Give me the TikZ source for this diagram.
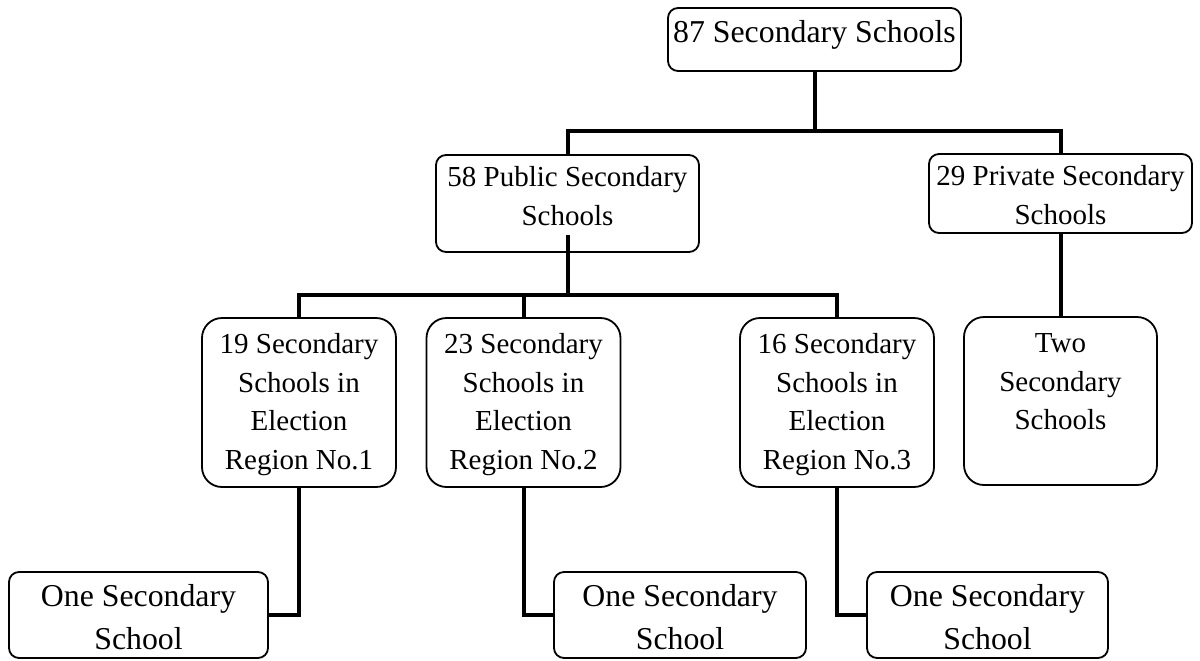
\documentclass[tikz,border=0pt]{standalone}
\usepackage{fontspec}
\setmainfont{Liberation Serif}
\newcommand{\bigtxt}{\fontsize{15.9pt}{21.5pt}\selectfont}
\newcommand{\midtxt}{\fontsize{14.5pt}{19.25pt}\selectfont}
% width, height, top gap, text
\newcommand{\schooltext}[4]{\parbox[c][#2][t]{#1}{\centering\vspace*{#3}\strut #4}}
\tikzset{
    unit/.style={draw,line width=.9pt,rounded corners=5pt,inner sep=0pt,font=\midtxt},
    unitbig/.style={unit,font=\bigtxt},
    link/.style={line width=2pt}
}
\begin{document}
\begin{tikzpicture}[x=.5pt,y=-.5pt]
    \useasboundingbox (0,0) rectangle (1200,660);
    \node[unitbig] at (814.5,39.5)(top){\schooltext{146.5pt}{31.5pt}{2pt}{87 Secondary Schools}};
    \node[unit] at (567.5,203.5)(pub){\schooltext{131.5pt}{48.5pt}{2.3pt}{58 Public Secondary\\Schools}};
    \node[unit] at (1060.5,193.5)(priv){\schooltext{131.5pt}{39.5pt}{2.5pt}{29 Private Secondary\\Schools}};
    \node[unit,rounded corners=10pt] at (299,402.5)(r1){\schooltext{97pt}{84.5pt}{4.5pt}{19 Secondary\\Schools in\\Election\\Region No.1}};
    \node[unit,rounded corners=10pt] at (523.5,402.5)(r2){\schooltext{97pt}{84.5pt}{4.5pt}{23 Secondary\\Schools in\\Election\\Region No.2}};
    \node[unit,rounded corners=10pt] at (837,402.5)(r3){\schooltext{97pt}{84.5pt}{4.5pt}{16 Secondary\\Schools in\\Election\\Region No.3}};
    \node[unit,rounded corners=10pt] at (1060.5,401)(two){\schooltext{96.5pt}{84pt}{4.5pt}{Two\\Secondary\\Schools}};
    \node[unitbig] at (138.5,615)(b1){\schooltext{129.5pt}{43pt}{2pt}{One Secondary\\School}};
    \node[unitbig] at (680,615)(b2){\schooltext{126pt}{43pt}{2pt}{One Secondary\\School}};
    \node[unitbig] at (987.5,615)(b3){\schooltext{120.5pt}{43pt}{2pt}{One Secondary\\School}};

    \draw[link] (top.south) -- ++(0,59) coordinate (j1);
    \draw[link] (pub.north) |- (j1) -| (priv.north);
    \draw[link] ([yshift=9pt]pub.south) -- ++(0,60) coordinate (j2);
    \draw[link] (r1.north) |- (j2) -| (r3.north);
    \draw[link] (r2.north) -- (r2.north |- j2);
    \draw[link] (priv.south) -- (two.north);
    \draw[link] (r1.south) |- (b1.east);
    \draw[link] (r2.south) |- (b2.west);
    \draw[link] (r3.south) |- (b3.west);
\end{tikzpicture}
\end{document}
